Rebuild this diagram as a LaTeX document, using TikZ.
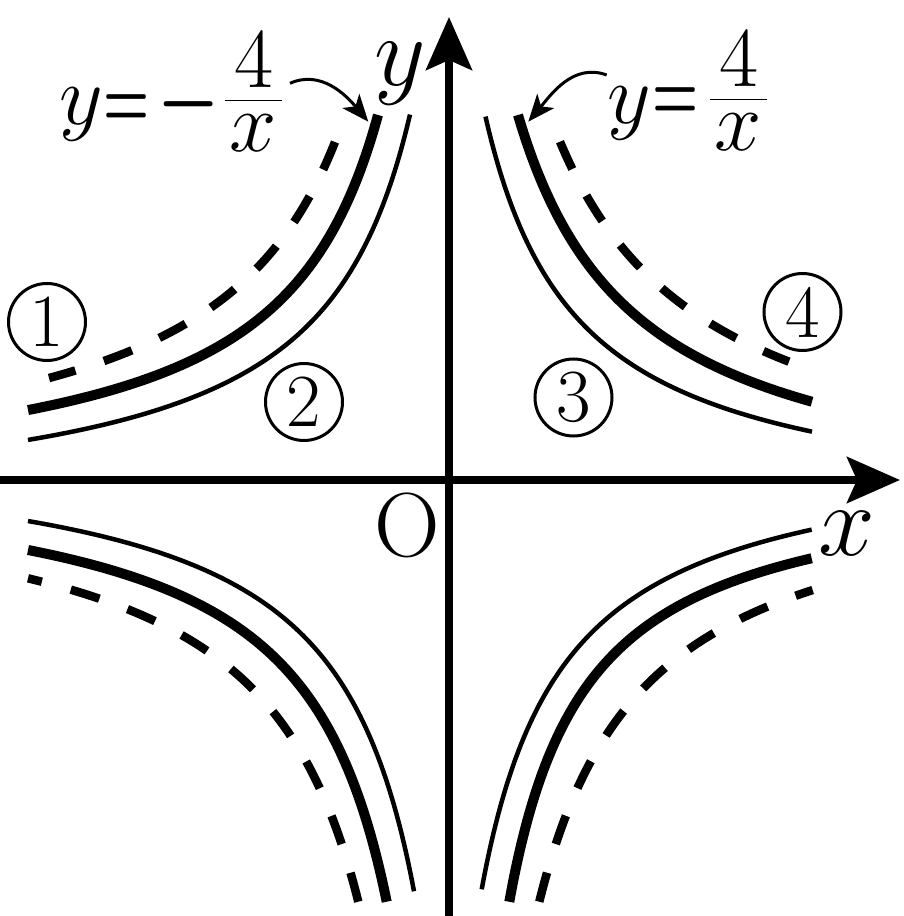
\RequirePackage{fix-cm}
\documentclass[tikz,border=0pt]{standalone}
\usepackage{graphicx}
\usetikzlibrary{arrows.meta}
\begin{document}
\begin{tikzpicture}[x=10pt,y=10pt,
  axisline/.style={line width=7.5pt,-{Stealth[length=53pt,width=46pt,inset=10pt]}},
  thincurve/.style={line width=4.5pt},
  thickcurve/.style={line width=10pt},
  dashcurve/.style={line width=8.5pt,dash pattern=on 30pt off 30pt},
  pointer/.style={line width=3pt,-{Stealth[length=27pt,width=22pt,inset=7pt]}},
  circnum/.style={circle,draw,line width=3pt,minimum size=77pt,inner sep=0pt,font=\fontsize{75pt}{80pt}\selectfont},
  axlabel/.style={inner sep=0pt,anchor=base,font=\fontsize{100pt}{110pt}\selectfont},
  eqpart/.style={inner sep=0pt,anchor=base,font=\fontsize{85pt}{95pt}\selectfont},
]
\useasboundingbox (-44.9,-43.6) rectangle (45.4,48.0);

% axes
\coordinate (xstart) at (-46,0);
\coordinate (xend) at (45.1,0);
\coordinate (ystart) at (0,-45);
\coordinate (yend) at (0,46.3);
\draw[axisline] (xstart) -- (xend);
\draw[axisline] (ystart) -- (yend);

% upper left
\draw[thincurve] plot[domain=3.9:42.1,samples=200] ({-\x},{384/(\x+5.56)-4.05});
\draw[thickcurve] plot[domain=7.1:42.1,samples=200] ({-\x},{401.3/(\x+3.37)-1.83});
\draw[dashcurve] plot[domain=11.4:40.0,samples=200] ({-\x},{486.14/(\x+2.47)-1.25});
% upper right
\draw[thincurve] plot[domain=3.65:36.3,samples=200] ({\x},{372/(\x+5.56)-4.05});
\draw[thickcurve] plot[domain=6.9:36.3,samples=200] ({\x},{475.68/(\x+4.93)-3.71});
\draw[dashcurve] plot[domain=11.1:34.0,samples=200] ({\x},{566.04/(\x+4.29)-2.95});
% lower left
\draw[thincurve] plot[domain=3.5:42.1,samples=200] ({-\x},{-384/(\x+5.0)+4.05});
\draw[thickcurve] plot[domain=6.23:42.1,samples=200] ({-\x},{-394.9/(\x+2.75)+1.805});
\draw[dashcurve] plot[domain=9.07:42.1,samples=200] ({-\x},{-457.64/(\x+1.62)+0.637});
% lower right
\draw[thincurve] plot[domain=3.27:36.27,samples=200] ({\x},{-372/(\x+5.0)+4.05});
\draw[thickcurve] plot[domain=6.03:36.27,samples=200] ({\x},{-336/(\x+1.75)+1.01});
\draw[dashcurve] plot[domain=9.03:36.37,samples=200] ({\x},{-469.58/(\x+1.77)+1.31});

% axis labels
\node[axlabel] (ylab) at (-4.9,39.45) {$y$};
\node[axlabel,font=\fontsize{102pt}{110pt}\selectfont] (xlab) at (39.78,-7.55) {$x$};
\node[axlabel,font=\fontsize{91pt}{100pt}\selectfont] (olab) at (-4.22,-7.6) {O};

% left equation
\node[eqpart] (ly) at (-36.78,35.5) {$y$};
\node[eqpart] (leq) at (-32.25,35.2) {\scalebox{0.62}[1]{\boldmath$=$}};
\node[eqpart] (lminus) at (-26.05,35.4) {\scalebox{0.82}[1]{\boldmath$-$}};
\node[eqpart] (lfrac) at (-19.55,35.9) {$\frac{\displaystyle\mkern1mu 4\mkern1mu}{\displaystyle\vrule height 0.6em width 0pt\mkern1mu x\mkern1mu}$};
% right equation
\node[eqpart] (ry) at (18.0,35.6) {$y$};
\node[eqpart] (req) at (22.65,35.9) {\scalebox{0.62}[1]{\boldmath$=$}};
\node[eqpart] (rfrac) at (28.95,36.0) {$\frac{\displaystyle\mkern1mu 4\mkern1mu}{\displaystyle\vrule height 0.6em width 0pt\mkern1mu x\mkern1mu}$};

% pointers
\coordinate (lstart) at (-15.9,39.67);
\coordinate (ltip) at (-8.07,35.83);
\draw[pointer] (lstart) to[out=24,in=130] (ltip);
\coordinate (rstart) at (15.77,40.5);
\coordinate (rtip) at (7.93,35.83);
\draw[pointer] (rstart) to[out=160,in=50] (rtip);

% circled numbers
\node[circnum] (c1) at (-40.2,15.8) {1};
\node[circnum] (c2) at (-14.5,7.8) {2};
\node[circnum] (c3) at (12.45,8.25) {3};
\node[circnum] (c4) at (35.35,16.8) {4};
\end{tikzpicture}
\end{document}
